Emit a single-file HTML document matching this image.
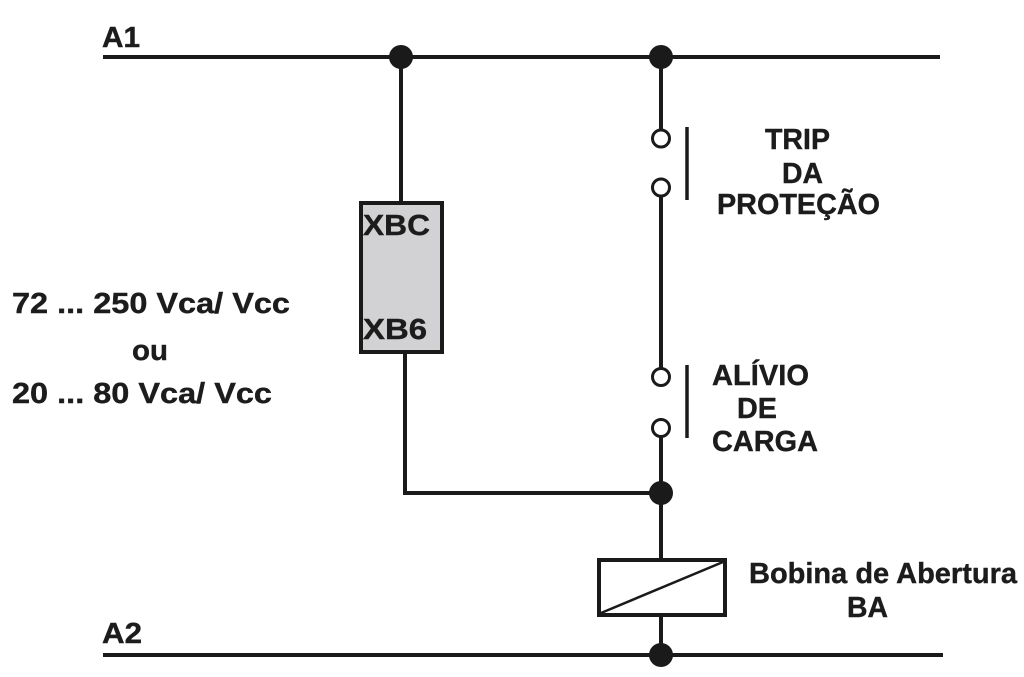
<!DOCTYPE html>
<html>
<head>
<meta charset="utf-8">
<style>
  html, body { margin: 0; padding: 0; background: #ffffff; }
  svg { display: block; }
  text { font-family: "Liberation Sans", Arial, sans-serif; font-weight: bold; font-size: 29px; fill: #1c1c1c; stroke: #1c1c1c; stroke-width: 0.4px; }
</style>
</head>
<body>
<svg width="1024" height="677" viewBox="0 0 1024 677" xmlns="http://www.w3.org/2000/svg">
  <rect x="0" y="0" width="1024" height="677" fill="#ffffff"/>

  <!-- A1 bus -->
  <line x1="103" y1="57" x2="940" y2="57" stroke="#1a1a1a" stroke-width="4"/>
  <text x="102" y="47" textLength="38" lengthAdjust="spacingAndGlyphs">A1</text>

  <!-- A2 bus -->
  <line x1="103" y1="655" x2="943" y2="655" stroke="#1a1a1a" stroke-width="4"/>
  <text x="102" y="643" textLength="40" lengthAdjust="spacingAndGlyphs">A2</text>

  <!-- Left branch: XBC/XB6 box -->
  <line x1="401" y1="57" x2="401" y2="203" stroke="#1a1a1a" stroke-width="4"/>
  <rect x="361" y="203" width="81" height="149" fill="#d2d2d4" stroke="#1a1a1a" stroke-width="4"/>
  <text x="363" y="235" textLength="67" lengthAdjust="spacingAndGlyphs">XBC</text>
  <text x="363" y="339" textLength="64" lengthAdjust="spacingAndGlyphs">XB6</text>
  <polyline points="405,352 405,493 661,493" fill="none" stroke="#1a1a1a" stroke-width="4"/>

  <!-- Right branch -->
  <line x1="661" y1="57" x2="661" y2="130" stroke="#1a1a1a" stroke-width="4"/>
  <circle cx="661" cy="138.5" r="8.5" fill="#ffffff" stroke="#1a1a1a" stroke-width="3"/>
  <circle cx="661" cy="187.5" r="8.5" fill="#ffffff" stroke="#1a1a1a" stroke-width="3"/>
  <line x1="687" y1="127" x2="687" y2="200" stroke="#1a1a1a" stroke-width="3.5"/>
  <line x1="661" y1="196" x2="661" y2="368" stroke="#1a1a1a" stroke-width="4"/>

  <circle cx="661" cy="377" r="8.5" fill="#ffffff" stroke="#1a1a1a" stroke-width="3"/>
  <circle cx="661" cy="428" r="8.5" fill="#ffffff" stroke="#1a1a1a" stroke-width="3"/>
  <line x1="687" y1="365" x2="687" y2="438" stroke="#1a1a1a" stroke-width="3.5"/>
  <line x1="661" y1="437" x2="661" y2="560" stroke="#1a1a1a" stroke-width="4"/>

  <!-- Coil -->
  <rect x="599" y="560" width="126" height="55" fill="#ffffff" stroke="#1a1a1a" stroke-width="4"/>
  <line x1="601" y1="613" x2="723" y2="562" stroke="#1a1a1a" stroke-width="2.5"/>
  <line x1="661" y1="617" x2="661" y2="655" stroke="#1a1a1a" stroke-width="4"/>

  <!-- Junction dots -->
  <circle cx="401" cy="57" r="12" fill="#1a1a1a"/>
  <circle cx="661" cy="57" r="12" fill="#1a1a1a"/>
  <circle cx="661" cy="493" r="12" fill="#1a1a1a"/>
  <circle cx="661" cy="655" r="12" fill="#1a1a1a"/>

  <!-- Left labels -->
  <text x="12" y="313" textLength="278" lengthAdjust="spacingAndGlyphs">72 ... 250 Vca/ Vcc</text>
  <text x="132" y="360" textLength="36" lengthAdjust="spacingAndGlyphs">ou</text>
  <text x="12" y="403" textLength="260" lengthAdjust="spacingAndGlyphs">20 ... 80 Vca/ Vcc</text>

  <!-- TRIP label -->
  <text x="765" y="149" textLength="65" lengthAdjust="spacingAndGlyphs">TRIP</text>
  <text x="782" y="183" textLength="41" lengthAdjust="spacingAndGlyphs">DA</text>
  <text x="717" y="214" textLength="163" lengthAdjust="spacingAndGlyphs">PROTEÇÃO</text>

  <!-- ALIVIO label -->
  <text x="712" y="385" textLength="97" lengthAdjust="spacingAndGlyphs">ALÍVIO</text>
  <text x="737" y="418" textLength="40" lengthAdjust="spacingAndGlyphs">DE</text>
  <text x="712" y="451" textLength="106" lengthAdjust="spacingAndGlyphs">CARGA</text>

  <!-- Coil label -->
  <text x="749" y="583" textLength="268" lengthAdjust="spacingAndGlyphs">Bobina de Abertura</text>
  <text x="847" y="617" textLength="41" lengthAdjust="spacingAndGlyphs">BA</text>
</svg>
</body>
</html>
